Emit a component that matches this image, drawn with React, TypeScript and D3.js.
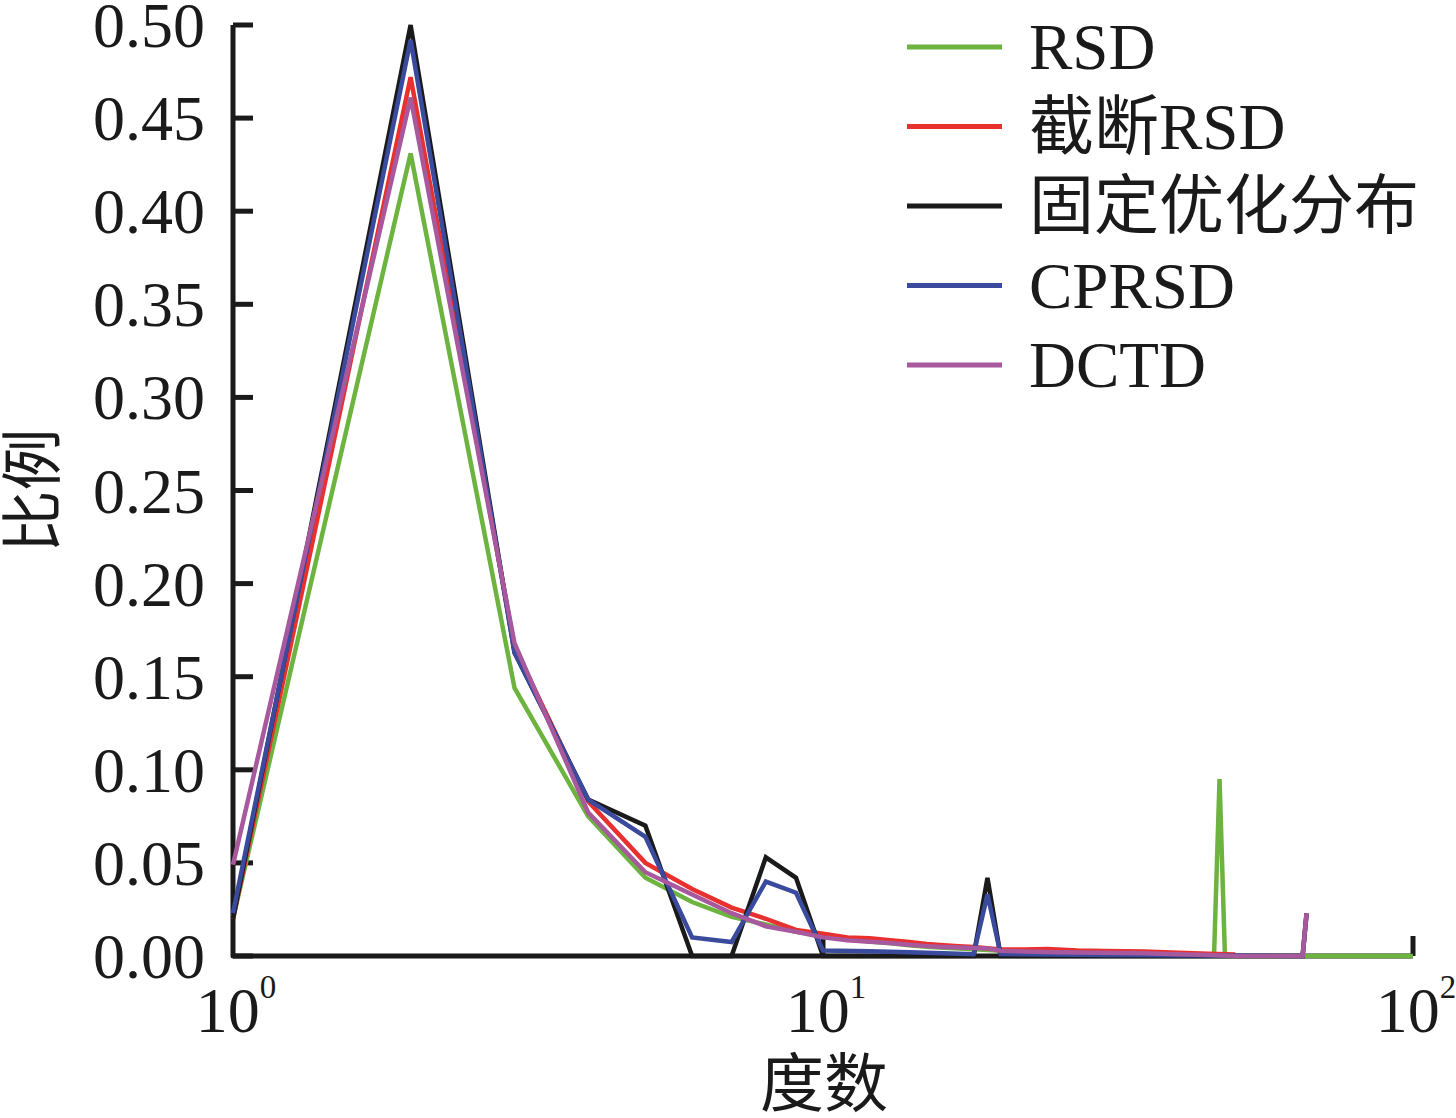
import React, { useEffect, useRef } from 'react';
import * as d3 from 'd3';

// degree / proportion samples
const rsdDegrees = [1, 2, 3, 4, 5, 6, 7, 8, 9, 10, 11, 12, 13, 14, 15, 16, 17, 18, 19, 20, 25, 30, 35, 40, 45, 46, 47, 48, 100];
const rsdValues = [0.02, 0.431, 0.144, 0.075, 0.042, 0.029, 0.021, 0.017, 0.013, 0.011, 0.009, 0.0078, 0.0068, 0.0058, 0.005, 0.0044, 0.004, 0.0036, 0.0032, 0.0028, 0.0022, 0.0016, 0.0012, 0.001, 0.0008, 0, 0.095, 0, 0];

const truncDegrees = [1, 2, 3, 4, 5, 6, 7, 8, 9, 10, 11, 12, 13, 14, 15, 16, 17, 18, 19, 20, 22, 24, 27, 30, 35, 40, 45, 50];
const truncValues = [0.02, 0.472, 0.166, 0.083, 0.05, 0.036, 0.026, 0.02, 0.014, 0.012, 0.01, 0.0095, 0.0085, 0.0075, 0.0065, 0.0058, 0.0052, 0.0048, 0.0042, 0.0035, 0.0035, 0.0038, 0.003, 0.0027, 0.0024, 0.0018, 0.0012, 0.0008];

const fixedDegrees = [1, 2, 3, 4, 5, 6, 7, 8, 9, 10, 18, 19, 20, 65, 66];
const fixedValues = [0.02, 0.5, 0.163, 0.084, 0.07, 0, 0, 0.053, 0.042, 0, 0, 0.042, 0, 0, 0.023];

const cprsdDegrees = [1, 2, 3, 4, 5, 6, 7, 8, 9, 10, 12, 14, 16, 18, 19, 20, 30, 65, 66];
const cprsdValues = [0.023, 0.492, 0.163, 0.084, 0.064, 0.01, 0.0075, 0.04, 0.034, 0.003, 0.0025, 0.002, 0.0015, 0.001, 0.033, 0.001, 0.0005, 0, 0.022];

const dctdDegrees = [1, 2, 3, 4, 5, 6, 7, 8, 9, 10, 11, 12, 13, 14, 15, 16, 17, 18, 19, 20, 25, 30, 35, 40, 45, 50, 65, 66];
const dctdValues = [0.049, 0.461, 0.168, 0.077, 0.045, 0.033, 0.023, 0.016, 0.013, 0.01, 0.0085, 0.0077, 0.007, 0.006, 0.0053, 0.0048, 0.0045, 0.0043, 0.004, 0.0028, 0.002, 0.0018, 0.0015, 0.001, 0.0005, 0, 0, 0.023];

const seriesNames = ['RSD', '截断RSD', '固定优化分布', 'CPRSD', 'DCTD'];
const seriesColors = ['#6db33f', '#e8302e', '#1a1a1a', '#3a4a9c', '#a8589c'];
const seriesDegrees = [rsdDegrees, truncDegrees, fixedDegrees, cprsdDegrees, dctdDegrees];
const seriesValues = [rsdValues, truncValues, fixedValues, cprsdValues, dctdValues];

const yTicks = [0, 0.05, 0.1, 0.15, 0.2, 0.25, 0.3, 0.35, 0.4, 0.45, 0.5];
const xTicks = [1, 10, 100];
const xTickExp = ['0', '1', '2'];

const FONT = '"Liberation Serif", "Times New Roman", "Noto Sans CJK SC", serif';

const App: React.FC = () => {
  const svgRef = useRef<SVGSVGElement>(null);

  useEffect(() => {
    if (!svgRef.current) return;
    const svg = d3.select(svgRef.current);
    svg.selectAll('*').remove();

    const width = 1456;
    const height = 1118;
    svg.attr('width', width).attr('height', height);

    const x = d3.scaleLog().domain([1, 100]).range([233, 1413]);
    const y = d3.scaleLinear().domain([0, 0.5]).range([956, 25]);

    // axes first, the curves sit on top of them
    const axisColor = '#1a1a1a';
    svg
      .append('path')
      .attr('d', `M${x(1)},${y(0.5)}V${y(0)}H${x(100)}`)
      .attr('fill', 'none')
      .attr('stroke', axisColor)
      .attr('stroke-width', 5)
      .attr('stroke-linejoin', 'round');

    yTicks.forEach((t) => {
      svg
        .append('line')
        .attr('x1', x(1))
        .attr('x2', x(1) + 20)
        .attr('y1', y(t))
        .attr('y2', y(t))
        .attr('stroke', axisColor)
        .attr('stroke-width', 5);
      svg
        .append('text')
        .attr('x', 205)
        .attr('y', y(t) + 22)
        .attr('text-anchor', 'end')
        .attr('font-family', FONT)
        .attr('font-size', 64)
        .attr('fill', axisColor)
        .text(t.toFixed(2));
    });

    xTicks.forEach((t, i) => {
      if (t > 1) {
        svg
          .append('line')
          .attr('x1', x(t))
          .attr('x2', x(t))
          .attr('y1', y(0))
          .attr('y2', y(0) - 20)
          .attr('stroke', axisColor)
          .attr('stroke-width', 5);
      }
      const label = svg
        .append('text')
        .attr('x', x(t) + 3)
        .attr('y', 1032)
        .attr('text-anchor', 'middle')
        .attr('font-family', FONT)
        .attr('font-size', 64)
        .attr('fill', axisColor);
      label.append('tspan').text('10');
      label.append('tspan').attr('font-size', 33).attr('dy', -34).text(xTickExp[i]);
    });

    // data lines
    const line = d3
      .line<[number, number]>()
      .x((d) => x(d[0]))
      .y((d) => y(d[1]));

    seriesNames.forEach((name, i) => {
      const pts = seriesDegrees[i].map((d, j) => [d, seriesValues[i][j]] as [number, number]);
      svg
        .append('path')
        .datum(pts)
        .attr('d', line)
        .attr('fill', 'none')
        .attr('stroke', seriesColors[i])
        .attr('stroke-width', 4.5)
        .attr('stroke-linejoin', 'miter');
    });

    // axis titles
    svg
      .append('text')
      .attr('x', 824)
      .attr('y', 1106)
      .attr('text-anchor', 'middle')
      .attr('font-family', FONT)
      .attr('font-size', 64)
      .attr('fill', axisColor)
      .text('度数');

    svg
      .append('text')
      .attr('transform', `translate(34,${(y(0) + y(0.5)) / 2}) rotate(-90)`)
      .attr('text-anchor', 'middle')
      .attr('dominant-baseline', 'central')
      .attr('font-family', FONT)
      .attr('font-size', 62)
      .attr('fill', axisColor)
      .text('比例');

    // legend
    const legend = svg.append('g');
    seriesNames.forEach((name, i) => {
      const ly = 47 + i * 79.5;
      legend
        .append('line')
        .attr('x1', 907)
        .attr('x2', 1002)
        .attr('y1', ly)
        .attr('y2', ly)
        .attr('stroke', seriesColors[i])
        .attr('stroke-width', 5);
      legend
        .append('text')
        .attr('x', 1029)
        .attr('y', ly + 22)
        .attr('font-family', FONT)
        .attr('font-size', 65)
        .attr('fill', axisColor)
        .text(name);
    });
  }, []);

  return (
    <div style={{ position: 'absolute', left: 0, top: 0, background: '#fff' }}>
      <svg ref={svgRef} style={{ display: 'block' }}></svg>
    </div>
  );
};

export default App;
